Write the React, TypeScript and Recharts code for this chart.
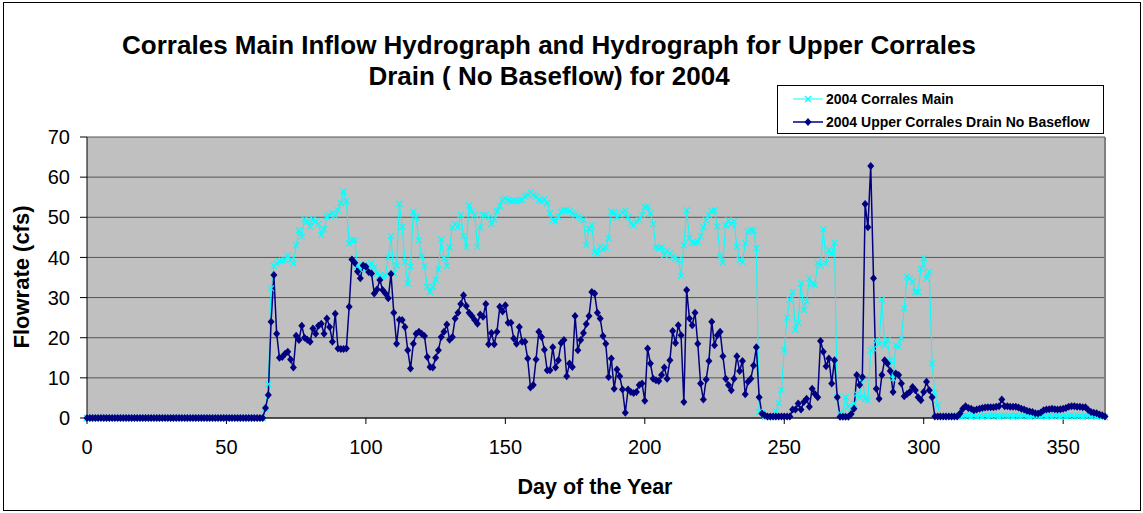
import React from "react";
import {
  LineChart,
  Line,
  XAxis,
  YAxis,
  CartesianGrid,
  ReferenceLine,
} from "recharts";

// Daily flow, 2004, one value per day of year (index = day)
const corralesMain = [
  // day 0
  0, 0, 0, 0, 0, 0, 0, 0, 0, 0, 0, 0, 0, 0, 0, 0,
  0, 0, 0, 0, 0, 0, 0, 0, 0, 0, 0, 0, 0, 0, 0, 0,
  0, 0, 0, 0, 0, 0, 0, 0, 0, 0, 0, 0, 0, 0, 0, 0,
  0, 0, 0, 0, 0, 0, 0, 0, 0, 0, 0, 0, 0, 0, 0, 0,
  // day 64
  2.5, 8.4, 32.3, 37.9, 38.5, 39, 39.2, 39.4, 40.4, 39.4, 38.5, 43, 46.8, 45.2, 49.5, 49,
  47.7, 49.5, 49, 48.3, 45.6, 47, 50.2, 50.6, 51, 50.3, 51.8, 53.5, 56.4, 54, 43.5, 44.3,
  44.3, 37.9, 36.9, 38, 37.2, 38, 38.5, 37.5, 36, 35.5, 35.2, 35.6, 40, 45.3, 36, 38,
  53.3, 47.6, 38.9, 33.5, 37.7, 51.4, 50, 44.3, 40.3, 37.9, 32.7, 31.4, 32.7, 34.4, 37, 44.5,
  // day 128
  39.8, 37.9, 42.5, 47.5, 48.3, 47.5, 50.6, 45.3, 42.5, 53, 51.4, 50.6, 42.7, 47.5, 50.6, 50.6,
  50, 48.3, 49.5, 51.5, 52.8, 54.3, 54.7, 54.2, 54, 54.2, 54, 54.2, 54.3, 55.2, 55.6, 56.2,
  55.6, 55.2, 54.3, 54, 54.5, 53.5, 51, 49.3, 49, 50.2, 51.4, 51.8, 51.8, 51.5, 51, 50.6,
  50.2, 49.8, 49.3, 43, 47.2, 48, 41.4, 41, 42.7, 42, 42.3, 44.8, 51.4, 51.2, 50, 50.6,
  // day 192
  51.2, 51.7, 50, 48.5, 48, 49, 49.3, 50.6, 52.5, 52.7, 51, 48.3, 42.5, 42.3, 42.5, 40.6,
  41.7, 40.9, 40.2, 39.8, 39.4, 35.4, 43, 51.8, 44.8, 43.7, 43.5, 43.9, 45.3, 47.5, 49.3, 50.6,
  51.5, 51.8, 47.7, 40.3, 38.7, 48, 49.3, 48.3, 49, 42.7, 39.4, 38.9, 43.5, 46.4, 46.8, 46.7,
  42.3, 1.5, 1.2, 0.3, 0.2, 0.2, 0.2, 1.5, 3.7, 7, 17, 25, 29.4, 31.4, 22, 23.7,
  // day 256
  33.5, 26.9, 29, 34.8, 33.4, 33.1, 38.7, 37.9, 47, 38.5, 41.9, 41, 43.7, 5.2, 1.2, 0.7,
  5.2, 2.8, 2.3, 3.6, 6, 5.2, 9.8, 4.8, 4.4, 16.9, 17.3, 19.2, 18.5, 29.5, 18.1, 19.4,
  14.4, 9.8, 18.1, 17.7, 19.8, 27.3, 35.2, 34.8, 34, 31.4, 31.4, 37.2, 39.8, 34.8, 36.4, 13.6,
  6.1, 3.2, 0.4, 0.3, 0.5, 0.2, 0.4, 0.6, 0.3, 0.5, 0.4, 0.7, 0.5, 0.3, 0.6, 0.4,
  // day 320
  0.5, 0.3, 0.6, 0.4, 0.5, 0.7, 0.4, 0.3, 0.5, 0.6, 0.4, 0.5, 0.3, 0.6, 0.5, 0.4,
  0.6, 0.4, 0.3, 0.5, 0.7, 0.5, 0.4, 0.6, 0.3, 0.5, 0.4, 0.6, 0.5, 0.3, 0.6, 0.4,
  0.5, 0.7, 0.4, 0.6, 0.5, 0.3, 0.5, 0.6, 0.4, 0.5, 0.3, 0.6, 0.4, 0.2,
];

const upperDrain = [
  // day 0
  0, 0, 0, 0, 0, 0, 0, 0, 0, 0, 0, 0, 0, 0, 0, 0,
  0, 0, 0, 0, 0, 0, 0, 0, 0, 0, 0, 0, 0, 0, 0, 0,
  0, 0, 0, 0, 0, 0, 0, 0, 0, 0, 0, 0, 0, 0, 0, 0,
  0, 0, 0, 0, 0, 0, 0, 0, 0, 0, 0, 0, 0, 0, 0, 0,
  // day 64
  2.5, 5.7, 24, 35.6, 21, 15, 15.2, 16, 16.5, 14.6, 12.6, 20.5, 19.4, 23, 20, 19.5,
  19, 22.3, 21, 23, 23.5, 21, 24.8, 22.7, 19, 26, 17.3, 17.2, 17.2, 17.3, 27.7, 39.5,
  38.7, 36.5, 34.8, 38, 37.7, 36.4, 36, 31, 32, 34.4, 31.9, 31, 29.8, 35.9, 26.2, 18.5,
  24.5, 24.4, 22.7, 16.9, 12.3, 18.5, 21, 21.5, 21, 20.4, 15.2, 12.7, 12.6, 15, 16.9, 20.2,
  // day 128
  21.5, 23.3, 19.5, 20.2, 24.8, 26.2, 28.4, 30.6, 27.9, 26.2, 25.4, 24.4, 23.5, 25.8, 25.2, 28.4,
  18.4, 21.2, 18.4, 21.5, 27.7, 26.5, 28.1, 23.7, 23.7, 19.8, 18.5, 22.7, 19, 19, 14.8, 7.6,
  8.2, 14.6, 21.5, 20.2, 17, 11.9, 11.9, 17.6, 12.6, 14.4, 18.7, 19.4, 10.4, 13.6, 12.7, 25.4,
  16.9, 19.4, 21.2, 23.4, 25.4, 31.4, 31, 26.2, 24.8, 20.4, 18.5, 10.2, 14.8, 7.3, 12.1, 10.4,
  // day 192
  7.1, 1.3, 7.1, 6.5, 6.2, 6.5, 8.2, 8.6, 4.3, 17.3, 13.6, 9.8, 9.4, 9.2, 10.7, 12.6,
  9.8, 14.4, 21.7, 18.7, 23.1, 20.6, 4, 31.9, 24.8, 23.1, 26.2, 18.5, 8.6, 4.6, 9.6, 14.2,
  24, 18.1, 20.6, 21.5, 15.4, 9.8, 8.2, 6.9, 9.8, 15.4, 11.7, 14.2, 5.9, 9, 9.8, 13.1,
  17.6, 5.2, 1.1, 0.7, 0.4, 0.4, 0.4, 0.4, 0.4, 0.4, 0.4, 0.4, 0.4, 2.1, 2.1, 3.6,
  // day 256
  2.1, 4, 4.8, 2.8, 7.3, 6, 5.2, 19.2, 16.5, 12.9, 14.8, 8.6, 14.4, 5.2, 0.3, 0.3,
  0.3, 0.3, 1, 2.3, 10.7, 8.2, 10.2, 53.3, 47.5, 62.8, 34.8, 7.3, 4.8, 10.7, 14.4, 13.6,
  11.7, 6.5, 11.1, 10.7, 8.6, 5.4, 6, 6.5, 7.7, 6.9, 5.2, 4.4, 6.5, 9, 6.9, 5.2,
  0.4, 0.4, 0.4, 0.4, 0.4, 0.4, 0.4, 0.4, 0.4, 1.1, 2.3, 2.9, 2.5, 2.3, 1.9, 2.1,
  // day 320
  2.3, 2.5, 2.6, 2.7, 2.7, 2.7, 2.8, 2.9, 4.6, 2.9, 2.9, 2.8, 2.8, 2.8, 2.6, 2.3,
  2.1, 1.8, 1.6, 1.5, 1.2, 1.1, 1.4, 1.9, 2.1, 2.2, 2.3, 2.2, 2.1, 2.2, 2.3, 2.5,
  2.8, 2.9, 2.9, 2.8, 2.8, 2.7, 2.7, 2, 1.5, 1.3, 1.2, 0.9, 0.7, 0.4,
];

const xTicks = [0, 50, 100, 150, 200, 250, 300, 350];
const yTicks = [0, 10, 20, 30, 40, 50, 60, 70];

const data = corralesMain.map((main, day) => ({
  day,
  main,
  drain: upperDrain[day],
}));

const FONT = '"Liberation Sans", Arial, sans-serif';
const CYAN = "#00FFFF";
const NAVY = "#000080";

const CrossDot = (props: any) => {
  const { cx, cy, index } = props;
  if (cx == null || cy == null) return <g key={`m-${index}`} />;
  const s = 3;
  return (
    <path
      key={`m-${index}`}
      d={`M${cx - s},${cy - s}L${cx + s},${cy + s}M${cx - s},${cy + s}L${cx + s},${cy - s}`}
      stroke={CYAN}
      strokeWidth={1.2}
      fill="none"
    />
  );
};

const DiamondDot = (props: any) => {
  const { cx, cy, index } = props;
  if (cx == null || cy == null) return <g key={`d-${index}`} />;
  return (
    <path
      key={`d-${index}`}
      d={`M${cx},${cy - 4}L${cx + 3.5},${cy}L${cx},${cy + 4}L${cx - 3.5},${cy}Z`}
      fill={NAVY}
    />
  );
};

const LegendRow: React.FC<{ label: string; color: string; marker: "x" | "d" }> = ({
  label,
  color,
  marker,
}) => (
  <div style={{ display: "flex", alignItems: "center", height: 23 }}>
    <svg width={32} height={12} style={{ marginRight: 2 }}>
      <line x1={1} y1={6} x2={31} y2={6} stroke={color} strokeWidth={marker === "d" ? 1.5 : 1} />
      {marker === "x" ? (
        <path d="M13,3L19,9M13,9L19,3" stroke={color} strokeWidth={1.2} />
      ) : (
        <path d="M16,2L19.5,6L16,10L12.5,6Z" fill={color} />
      )}
    </svg>
    <span>{label}</span>
  </div>
);

const App: React.FC = () => {
  return (
    <div
      style={{
        position: "absolute",
        left: 0,
        top: 0,
        width: 1143,
        height: 513,
        background: "#fff",
        fontFamily: FONT,
      }}
    >
      {/* outer frame */}
      <div
        style={{
          position: "absolute",
          left: 3,
          top: 2,
          width: 1136,
          height: 507,
          border: "1px solid #000",
        }}
      />

      {/* Title */}
      <div
        style={{
          position: "absolute",
          left: 0,
          top: 30,
          width: 1098,
          textAlign: "center",
          fontWeight: "bold",
          fontSize: 26,
          lineHeight: "31px",
          color: "#000",
        }}
      >
        Corrales Main Inflow Hydrograph and Hydrograph for Upper Corrales
        <br />
        Drain ( No Baseflow) for 2004
      </div>

      <LineChart
        width={1143}
        height={513}
        data={data}
        margin={{ top: 137, right: 38, bottom: 65, left: 27 }}
        style={{ position: "absolute", left: 0, top: 0 }}
      >
        <CartesianGrid vertical={false} fill="#C0C0C0" stroke="#555" strokeWidth={1} />
        <XAxis
          type="number"
          dataKey="day"
          domain={[0, 365]}
          ticks={xTicks}
          interval={0}
          axisLine={{ stroke: "#000" }}
          tickLine={{ stroke: "#000" }}
          tickSize={6}
          tickMargin={16}
          tick={{ fill: "#000", fontSize: 20, fontFamily: FONT }}
        />
        <YAxis
          type="number"
          domain={[0, 70]}
          ticks={yTicks}
          interval={0}
          width={60}
          axisLine={{ stroke: "#000" }}
          tickLine={{ stroke: "#000" }}
          tickSize={7}
          tickMargin={10}
          tick={{ fill: "#000", fontSize: 20, fontFamily: FONT }}
        />
        <ReferenceLine x={365} stroke="#808080" strokeWidth={2} />
        <Line
          type="linear"
          dataKey="main"
          stroke={CYAN}
          strokeWidth={1}
          dot={CrossDot}
          activeDot={false}
          isAnimationActive={false}
        />
        <Line
          type="linear"
          dataKey="drain"
          stroke={NAVY}
          strokeWidth={1.5}
          dot={DiamondDot}
          activeDot={false}
          isAnimationActive={false}
        />
      </LineChart>

      {/* Axis titles */}
      <div
        style={{
          position: "absolute",
          left: 22,
          top: 277,
          transform: "translate(-50%, -50%) rotate(-90deg)",
          whiteSpace: "nowrap",
          fontWeight: "bold",
          fontSize: 22,
        }}
      >
        Flowrate (cfs)
      </div>
      <div
        style={{
          position: "absolute",
          left: 595,
          top: 487,
          transform: "translate(-50%, -50%)",
          whiteSpace: "nowrap",
          fontWeight: "bold",
          fontSize: 21.5,
        }}
      >
        Day of the Year
      </div>

      {/* Legend */}
      <div
        style={{
          position: "absolute",
          left: 777,
          top: 85,
          width: 327,
          height: 49,
          border: "1px solid #000",
          background: "#fff",
          boxSizing: "border-box",
          paddingLeft: 14,
          paddingTop: 1,
          fontWeight: "bold",
          fontSize: 14,
        }}
      >
        <LegendRow label="2004 Corrales Main" color={CYAN} marker="x" />
        <LegendRow label="2004 Upper Corrales Drain No Baseflow" color={NAVY} marker="d" />
      </div>
    </div>
  );
};

export default App;
